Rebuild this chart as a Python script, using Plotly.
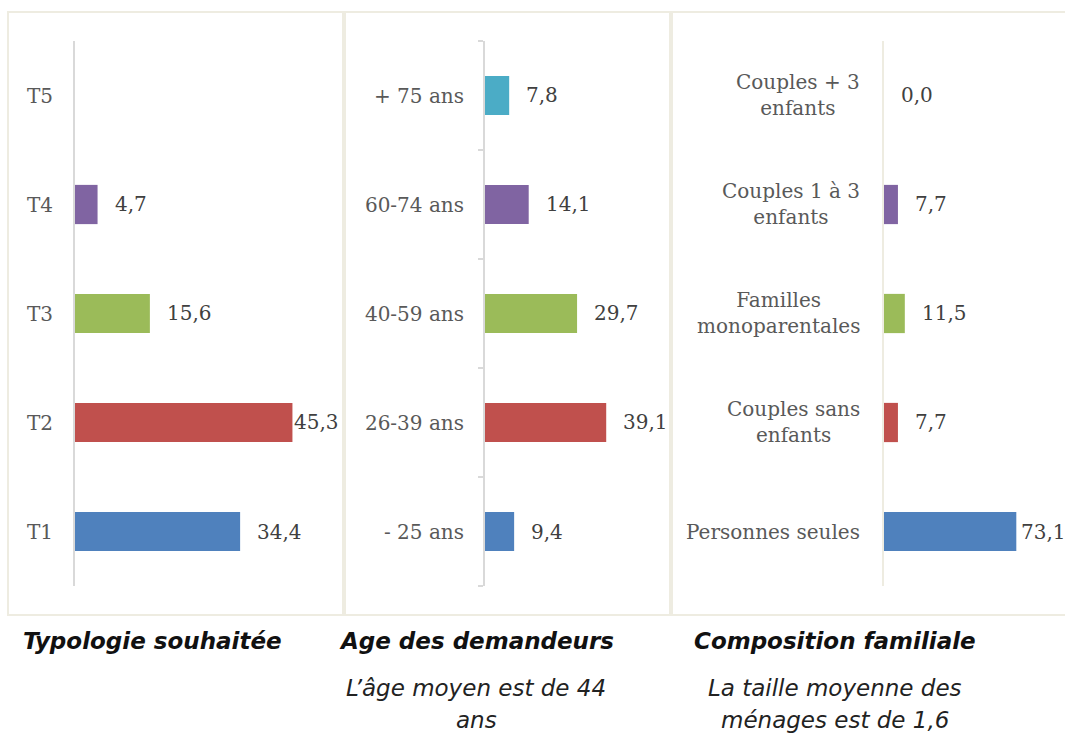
import plotly.graph_objects as go

# ---------------- data ----------------
typ_cats = ["T1", "T2", "T3", "T4", "T5"]
typ_vals = [34.4, 45.3, 15.6, 4.7, None]

age_cats = ["- 25 ans", "26-39 ans", "40-59 ans", "60-74 ans", "+ 75 ans"]
age_vals = [9.4, 39.1, 29.7, 14.1, 7.8]

comp_cats = ["Personnes seules", "Couples sans<br>enfants", "Familles<br>monoparentales",
             "Couples 1 à 3<br>enfants", "Couples + 3<br>enfants"]
comp_vals = [73.1, 7.7, 11.5, 7.7, 0.0]

titles = ["Typologie souhaitée", "Age des demandeurs", "Composition familiale"]
subtitles = [[], ["L’âge moyen est de 44", "ans"], ["La taille moyenne des", "ménages est de 1,6"]]

# ---------------- style ----------------
W, H = 1065, 733
colors = ["#4F81BD", "#C0504D", "#9BBB59", "#8064A2", "#4BACC6"]
SERIF = "DejaVu Serif"
SANS = "DejaVu Sans"
LBL = "#595959"
VAL = "#404040"
BORDER = "#EEECE1"
FS = 20

def px(x):
    return x / W

def py(y):
    return 1 - y / H

ydom = [py(586), py(41)]
xdoms = [[px(75), px(315)], [px(485), px(640)], [px(884), px(1065)]]
xmax = [50, 50, 100]

fig = go.Figure()
panels = [(typ_cats, typ_vals), (age_cats, age_vals), (comp_cats, comp_vals)]
annotations = []
for i, (cats, vals) in enumerate(panels):
    n = "" if i == 0 else str(i + 1)
    fig.add_trace(go.Bar(
        y=cats, x=[v if v is not None else 0 for v in vals], orientation="h",
        marker=dict(color=colors[:len(cats)], line=dict(width=0)),
        xaxis="x" + n, yaxis="y" + n, showlegend=False, hoverinfo="skip",
    ))
    for j, (c, v) in enumerate(zip(cats, vals)):
        if v is None:
            continue
        shift = 15
        if i == 0 and v == max(x for x in vals if x is not None):
            shift = 0
        if i == 2 and v == max(vals):
            shift = 3
        annotations.append(dict(
            x=v, y=c, xref="x" + n, yref="y" + n, text=f"{v:.1f}".replace(".", ","),
            showarrow=False, xanchor="left", yanchor="middle", xshift=shift,
            font=dict(family=SERIF, size=FS, color=VAL),
        ))

axcommon = dict(showgrid=False, zeroline=False, showticklabels=False, ticks="",
                fixedrange=True)
layout = dict(
    width=W, height=H, margin=dict(l=0, r=0, t=0, b=0),
    paper_bgcolor="white", plot_bgcolor="rgba(0,0,0,0)", bargap=0.64,
    separators=", ",
)
for i in range(3):
    n = "" if i == 0 else str(i + 1)
    layout["xaxis" + n] = dict(domain=xdoms[i], range=[0, xmax[i]], anchor="y" + n,
                               showline=False, **axcommon)
    ydict = dict(domain=ydom, anchor="x" + n, type="category", showgrid=False,
                 zeroline=False, fixedrange=True, showline=True, linewidth=2,
                 linecolor="#D9D9D9", range=[-0.5, 4.5],
                 tickfont=dict(family=SERIF, size=FS, color=LBL))
    if i == 0:
        ydict.update(ticks="", ticklabelstandoff=16)
    elif i == 1:
        ydict.update(ticks="outside", tickson="boundaries", ticklen=5,
                     tickcolor="#D9D9D9", tickwidth=2, ticklabelstandoff=15)
    else:
        ydict.update(ticks="", showticklabels=False, linecolor=BORDER)
    layout["yaxis" + n] = ydict

# category labels of 3rd panel (centered multi-line)
for c in comp_cats:
    annotations.append(dict(
        x=px(862), y=c, xref="paper", yref="y3", text=c, showarrow=False,
        xanchor="right", yanchor="middle", align="center",
        font=dict(family=SERIF, size=FS, color=LBL),
    ))

# titles and subtitles
centers = [152, 476, 835]
sub_y = [688, 720]
for k in range(3):
    annotations.append(dict(
        x=px(centers[k]), y=py(641), xref="paper", yref="paper",
        text=f"<b><i>{titles[k]}</i></b>", showarrow=False,
        xanchor="center", yanchor="middle",
        font=dict(family=SANS, size=23, color="#111111"),
    ))
    for line, yy in zip(subtitles[k], sub_y):
        annotations.append(dict(
            x=px(centers[k]), y=py(yy), xref="paper", yref="paper",
            text=f"<i>{line}</i>", showarrow=False,
            xanchor="center", yanchor="middle", align="center",
            font=dict(family=SANS, size=23, color="#222222"),
        ))

shapes = []
for (x0, x1) in [(8, 343), (345, 670), (672, 1080)]:
    shapes.append(dict(type="rect", xref="paper", yref="paper",
                       x0=px(x0), x1=px(x1), y0=py(615), y1=py(12),
                       line=dict(color=BORDER, width=2), fillcolor="rgba(0,0,0,0)",
                       layer="below"))

layout["annotations"] = annotations
layout["shapes"] = shapes
fig.update_layout(**layout)
fig.write_html("out.html", config={"displayModeBar": False},
               post_script="document.body.style.margin='0';")
